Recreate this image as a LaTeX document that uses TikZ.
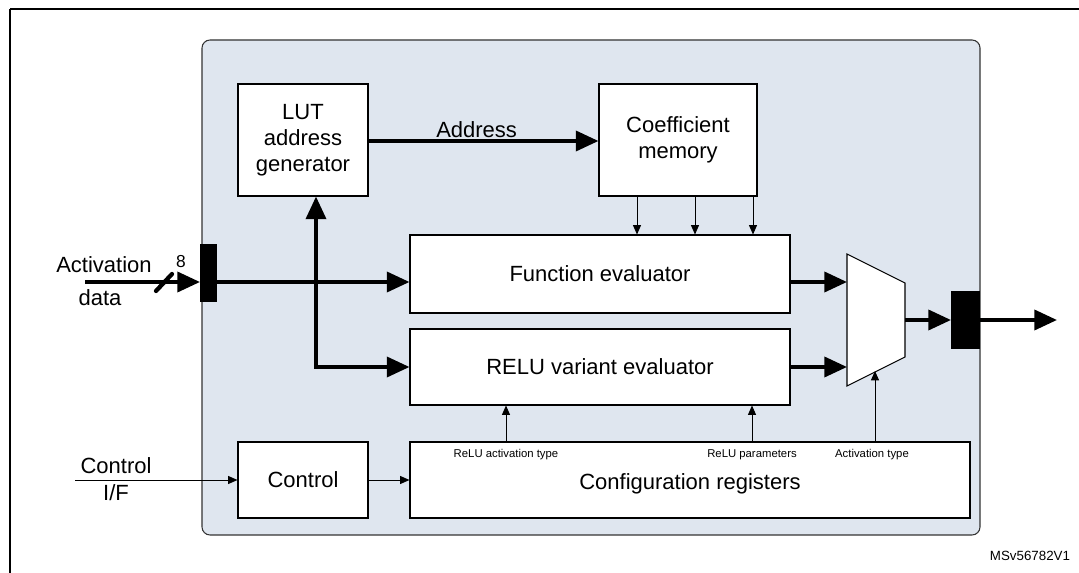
\documentclass[tikz,border=0pt]{standalone}
\usepackage{fontspec}
\setmainfont{Liberation Sans}
\usetikzlibrary{arrows.meta}
\begin{document}
\begin{tikzpicture}[x=0.75pt,y=-0.75pt,
  blk/.style={draw=black,fill=white,line width=0.8pt,align=center,font=\fontsize{16.5}{19.5}\selectfont,inner sep=0pt},
  big/.style={font=\fontsize{16.5}{19.5}\selectfont,inner sep=0pt},
  thick arrow/.style={line width=2.8pt,-{Triangle[length=17pt,width=15pt]}},
  thin arrow/.style={line width=0.7pt,-{Triangle[length=7pt,width=6pt]}},
  port/.style={fill=black,draw=none},
  small/.style={font=\fontsize{8.5}{10}\selectfont,inner sep=0pt}]
\useasboundingbox (0,0) rectangle (1079,573);
\draw[line width=1.5pt] (10,9) -- (1079,9);
\draw[line width=0.8pt] (10,9) -- (10,573);
\draw[fill={rgb,255:red,223;green,230;blue,239},draw=black!80,line width=0.8pt,rounded corners=6pt] (202,40) rectangle (980,535);
% blocks
\node[blk,minimum width=130*0.75pt,minimum height=112*0.75pt] (lut) at (303,140) {LUT\\address\\generator};
\node[blk,minimum width=158*0.75pt,minimum height=112*0.75pt] (coef) at (678,140) {Coefficient\\memory};
\node[blk,minimum width=380*0.75pt,minimum height=78*0.75pt] (fe) at (600,274) {Function evaluator};
\node[blk,minimum width=380*0.75pt,minimum height=76*0.75pt] (re) at (600,367) {RELU variant evaluator};
\node[blk,minimum width=560*0.75pt,minimum height=76*0.75pt] (cfg) at (690,480) {};
\node[big] (cfgt) at (690,484) {Configuration registers};
\node[blk,minimum width=130*0.75pt,minimum height=76*0.75pt] (ctl) at (303,480) {Control};
\node[small] (l1) at (506,455) {ReLU activation type};
\node[small] (l2) at (752,455) {ReLU parameters};
\node[small] (l3) at (872,455) {Activation type};
% mux
\draw[fill=white,line width=0.8pt] (847,254) -- (905,283) -- (905,357) -- (847,386) -- cycle;
\coordinate (muxa) at (847,282);
\coordinate (muxb) at (847,367);
\coordinate (muxo) at (905,320);
\coordinate (muxc) at (875,371);
% ports
\fill[port] (200,244) rectangle (217,302);
\coordinate (pin) at (217,282);
\coordinate (pinl) at (200,282);
\fill[port] (951,291) rectangle (980,349);
\coordinate (pol) at (951,320);
\coordinate (por) at (980,320);
% inputs
\coordinate (ain) at (85,282);
\draw[thick arrow] (ain) -- (pinl);
\draw[line width=3.2pt,line cap=round] (156,291) -- (172,274);
\node[font=\fontsize{13}{15}\selectfont] (eight) at (181,262) {8};
\node[big] (act1) at (104,265) {Activation};
\node[big] (act2) at (100,298) {data};
\coordinate (cin) at (75,480);
\node[big] (ctl1) at (116,466) {Control};
\node[big] (ctl2) at (116,493) {I/F};
\draw[thin arrow] (cin) -- (ctl.west);
\draw[thin arrow] (ctl.east) -- (cfg.west);
% main paths
\draw[thick arrow] (pin) -- (fe.west |- pin);
\draw[thick arrow] (lut.east |- 0,141) -- node[above=1pt,big,pos=0.47]{Address} (coef.west |- 0,141);
\draw[line width=2.8pt,{Triangle[length=17pt,width=15pt]}-{Triangle[length=17pt,width=15pt]}] (lut.south -| 316,0) -- (316,367) -- (re.west);
\draw[thick arrow] (fe.east |- muxa) -- (muxa);
\draw[thick arrow] (re.east) -- (muxb);
\draw[thick arrow] (muxo) -- (pol);
\coordinate (out) at (1057,320);
\draw[thick arrow] (por) -- (out);
% thin arrows
\foreach \x in {637,695,753} \draw[thin arrow] (coef.south -| \x,0) -- (fe.north -| \x,0);
\draw[thin arrow] (cfg.north -| 506,0) -- (re.south -| 506,0);
\draw[thin arrow] (cfg.north -| 752,0) -- (re.south -| 752,0);
\draw[thin arrow] (cfg.north -| 875,0) -- (muxc);
\node[font=\fontsize{10}{12}\selectfont] (id) at (1030,556) {MSv56782V1};
\end{tikzpicture}
\end{document}
